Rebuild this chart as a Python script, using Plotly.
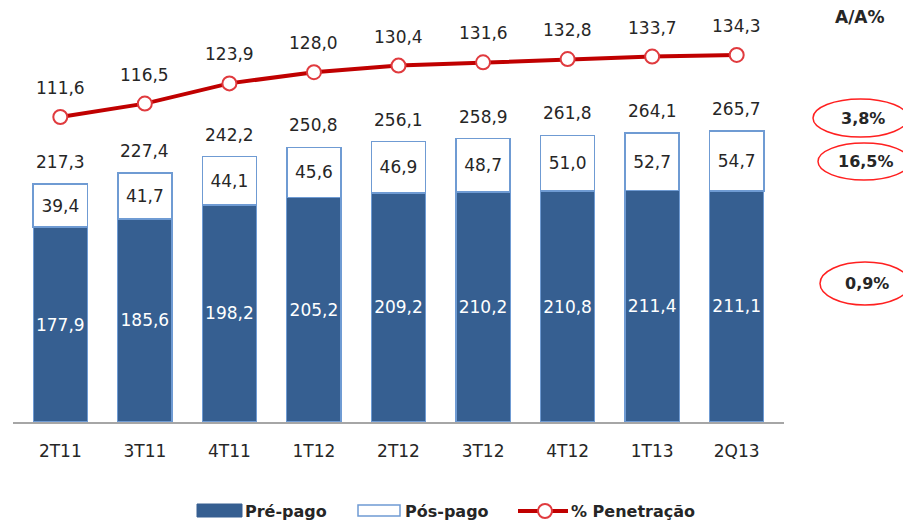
import plotly.graph_objects as go

categorias = ["2T11", "3T11", "4T11", "1T12", "2T12", "3T12", "4T12", "1T13", "2Q13"]
pre_pago = [177.9, 185.6, 198.2, 205.2, 209.2, 210.2, 210.8, 211.4, 211.1]
pos_pago = [39.4, 41.7, 44.1, 45.6, 46.9, 48.7, 51.0, 52.7, 54.7]
totais = [217.3, 227.4, 242.2, 250.8, 256.1, 258.9, 261.8, 264.1, 265.7]
penetracao = [111.6, 116.5, 123.9, 128.0, 130.4, 131.6, 132.8, 133.7, 134.3]
aa_labels = ["3,8%", "16,5%", "0,9%"]
series_names = ["Pré-pago", "Pós-pago", "% Penetração"]


def fmt(v):
    return f"{v:.1f}".replace(".", ",")


FONT = "DejaVu Sans"
TXT = "#262626"
BLUE = "#365F91"
OUTLINE = "#6F9BD3"
RED = "#C00000"
MRED = "#E03A3E"
OFF = 8  # page body margin
W, H = 911 - OFF, 522 - OFF
L, R, T, B = 13 - OFF, 127, 10 - OFF, 100
PW, PH = W - L - R, H - T - B


def px2paper(sx, sy):
    """screen pixel -> paper coords"""
    fx, fy = sx - OFF, sy - OFF
    return (fx - L) / PW, (H - B - fy) / PH


fig = go.Figure()
fig.add_trace(go.Bar(
    x=categorias, y=pre_pago, name=series_names[0],
    marker=dict(color=BLUE, line=dict(color=OUTLINE, width=1.2)),
    text=[fmt(v) for v in pre_pago], textposition="inside",
    insidetextanchor="middle", constraintext="none", textangle=0,
    textfont=dict(color="white", size=17, family=FONT),
    hoverinfo="skip",
))
fig.add_trace(go.Bar(
    x=categorias, y=pos_pago, name=series_names[1],
    marker=dict(color="white", line=dict(color=OUTLINE, width=1.5)),
    text=[fmt(v) for v in pos_pago], textposition="inside",
    insidetextanchor="middle", constraintext="none", textangle=0,
    textfont=dict(color=TXT, size=17, family=FONT),
    hoverinfo="skip",
))
fig.add_trace(go.Scatter(
    x=categorias, y=penetracao, name=series_names[2], yaxis="y2",
    mode="lines+markers",
    line=dict(color=RED, width=4),
    marker=dict(size=14, color="white", line=dict(color=MRED, width=2)),
    hoverinfo="skip",
))

annotations = []
for c, t in zip(categorias, totais):
    annotations.append(dict(x=c, y=t, xref="x", yref="y", text=fmt(t),
                            showarrow=False, yshift=22,
                            font=dict(size=17, family=FONT, color=TXT)))
for c, p in zip(categorias, penetracao):
    annotations.append(dict(x=c, y=p, xref="x", yref="y2", text=fmt(p),
                            showarrow=False, yshift=29,
                            font=dict(size=17, family=FONT, color=TXT)))


def paper_text(sx, sy, text, font, xanchor="center"):
    x, y = px2paper(sx, sy)
    annotations.append(dict(x=x, y=y, xref="paper", yref="paper", text=text,
                            xanchor=xanchor, yanchor="middle", showarrow=False,
                            font=font))


right_font = dict(size=16, family=FONT, color=TXT)
paper_text(860, 17, "<b>A/A%</b>", dict(size=17, family=FONT, color=TXT))

shapes = []
ellipses = [(813, 99, 908, 137), (818, 143, 910, 180), (820, 262, 910, 305)]
for (x0, y0, x1, y1), lab in zip(ellipses, aa_labels):
    px0, py0 = px2paper(x0, y1)
    px1, py1 = px2paper(x1, y0)
    shapes.append(dict(type="circle", xref="paper", yref="paper",
                       x0=px0, y0=py0, x1=px1, y1=py1,
                       line=dict(color="#FF2020", width=1.5)))
    paper_text((x0 + x1) / 2 + 2, (y0 + y1) / 2, f"<b>{lab}</b>", right_font)

# custom legend (wide rectangular swatches as in the reference)
LEG_Y = 511
legend_font = dict(size=16, family=FONT, color=TXT)
a0, b0 = px2paper(197, 517)
a1, b1 = px2paper(242, 504)
shapes.append(dict(type="rect", xref="paper", yref="paper", x0=a0, y0=b0, x1=a1, y1=b1,
                   fillcolor=BLUE, line=dict(color=BLUE, width=1)))
paper_text(243, LEG_Y, f"<b>{series_names[0]}</b>", legend_font, "left")

a0, b0 = px2paper(358, 516)
a1, b1 = px2paper(400, 505)
shapes.append(dict(type="rect", xref="paper", yref="paper", x0=a0, y0=b0, x1=a1, y1=b1,
                   fillcolor="white", line=dict(color=OUTLINE, width=1.5)))
paper_text(403, LEG_Y, f"<b>{series_names[1]}</b>", legend_font, "left")

a0, b0 = px2paper(518, LEG_Y)
a1, _ = px2paper(568, LEG_Y)
shapes.append(dict(type="line", xref="paper", yref="paper", x0=a0, y0=b0, x1=a1, y1=b0,
                   line=dict(color=RED, width=4)))
c0, d0 = px2paper(538, LEG_Y + 7)
c1, d1 = px2paper(552, LEG_Y - 7)
shapes.append(dict(type="circle", xref="paper", yref="paper", x0=c0, y0=d0, x1=c1, y1=d1,
                   fillcolor="white", line=dict(color=MRED, width=2)))
paper_text(569, LEG_Y, f"<b>{series_names[2]}</b>", legend_font, "left")

fig.update_layout(
    width=W, height=H,
    margin=dict(l=L, r=R, t=T, b=B, autoexpand=False),
    barmode="stack", bargap=0.36,
    plot_bgcolor="white", paper_bgcolor="white",
    font=dict(family=FONT, color=TXT, size=17),
    xaxis=dict(showline=True, linecolor="#A6A6A6", linewidth=2, showgrid=False,
               ticks="", ticklabelstandoff=13, tickfont=dict(size=17, color=TXT),
               automargin=False),
    yaxis=dict(range=[0, PH / 1.095], visible=False, showgrid=False),
    yaxis2=dict(range=[0, PH / 2.733], overlaying="y", side="right",
                visible=False, showgrid=False),
    annotations=annotations, shapes=shapes,
    showlegend=False,
)

fig.write_html("out.html")
